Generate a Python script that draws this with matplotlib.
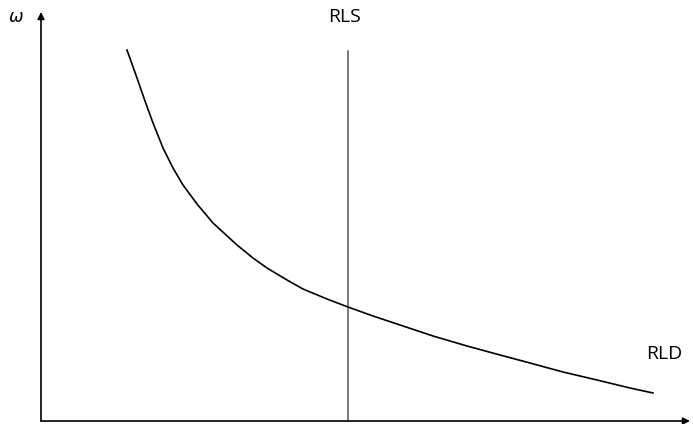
import matplotlib
matplotlib.use("Agg")
import matplotlib.pyplot as plt

# curve (pixel-like units, y grows downward)
rld_x = [127, 137, 145, 153, 163, 173, 183, 197, 213, 237, 253, 267, 287, 303, 327,
         348, 373, 400, 433, 467, 500, 530, 563, 597, 630, 653]
rld_y = [50, 78, 101, 123, 148, 168, 185, 204, 223, 245, 258, 268, 280, 289, 299,
         307, 316, 325, 336, 346, 355, 363, 372, 380, 388, 393]

rls_x = 348
rls_top, rls_bottom = 51, 421

origin = (41, 421)
x_end = 690
y_end = 12

fig = plt.figure(figsize=(6.93, 4.24), dpi=100)
ax = fig.add_axes([0, 0, 1, 1])
ax.set_xlim(0, 693)
ax.set_ylim(424, 0)
ax.axis("off")

arrow = dict(arrowstyle="-|>", color="black", lw=1.2, mutation_scale=10,
             shrinkA=0, shrinkB=0)
ax.annotate("", xy=(origin[0], y_end), xytext=origin, arrowprops=arrow)
ax.annotate("", xy=(x_end, origin[1]), xytext=origin, arrowprops=arrow)

ax.plot([rls_x, rls_x], [rls_top, rls_bottom], color="#555555", lw=1.1)
ax.plot(rld_x, rld_y, color="black", lw=1.2, solid_joinstyle="round")

ax.text(16, 17, r"$\omega$", fontsize=12.5, ha="center", va="center")
ax.text(344, 17, "RLS", fontsize=14, ha="center", va="center",
        family="Open Sans")
ax.text(664, 354, "RLD", fontsize=14, ha="center", va="center",
        family="Open Sans")

fig.savefig("out.png", dpi=100)
